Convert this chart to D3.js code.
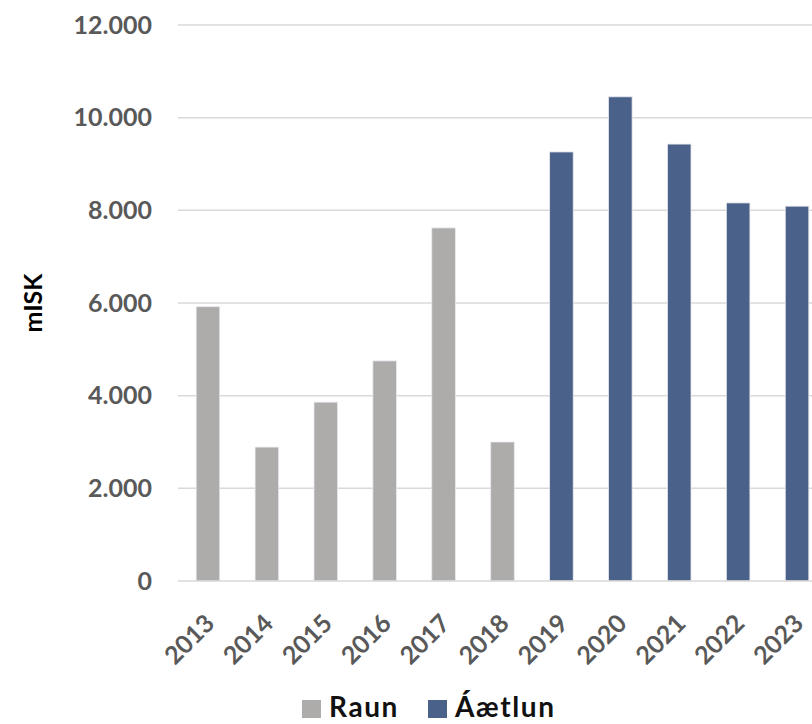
<!DOCTYPE html>
<html>
<head>
<meta charset="utf-8">
<script src="https://cdn.jsdelivr.net/npm/d3@7"></script>
<style>
  body { margin: 0; background: #fff; }
  svg text { font-family: Lato, "Open Sans", sans-serif; font-weight: bold; }
</style>
</head>
<body>
<div id="chart"></div>
<script>
const W = 812, H = 724;

// data
const years = ["2013","2014","2015","2016","2017","2018","2019","2020","2021","2022","2023"];
const values = [5920, 2890, 3860, 4750, 7620, 3000, 9260, 10450, 9430, 8160, 8090];
const series = ["Raun","Raun","Raun","Raun","Raun","Raun","Áætlun","Áætlun","Áætlun","Áætlun","Áætlun"];
const legendNames = ["Raun", "Áætlun"];
const yTicks = [0, 2000, 4000, 6000, 8000, 10000, 12000];

const colors = { "Raun": "#aeabab", "Áætlun": "#4a6189" };

let svg = d3.select("#chart")
    .append("svg")
    .attr("width", W)
    .attr("height", H);

// plot area runs a bit past the right edge (chart is cropped)
let x = d3.scaleBand()
    .domain(years)
    .range([178.5, 826.5])
    .paddingInner(0.6)
    .paddingOuter(0.3);

let y = d3.scaleLinear()
    .domain([0, 12000])
    .range([581, 25]);

// gridlines
svg.append("g")
    .selectAll("line")
    .data(yTicks.filter(d => d > 0))
    .enter()
    .append("line")
    .attr("x1", 178)
    .attr("x2", W)
    .attr("y1", d => y(d))
    .attr("y2", d => y(d))
    .style("stroke", "#d9d9d9")
    .style("stroke-width", 1.5)

// y axis labels
let yAxis = svg.append("g")
    .attr("transform", `translate(${178},0)`)
    .call(d3.axisLeft(y).tickValues(yTicks).tickSize(0).tickPadding(26)
        .tickFormat(d => d3.format(",")(d).replace(/,/g, ".")))
yAxis.select(".domain").remove()
yAxis.selectAll("text")
    .style("font-size", "25px")
    .style("fill", "#595959")

// bars
svg.append("g")
    .selectAll("rect")
    .data(years)
    .enter()
    .append("rect")
    .attr("x", d => x(d))
    .attr("width", x.bandwidth())
    .attr("y", (d, i) => y(values[i]))
    .attr("height", (d, i) => y(0) - y(values[i]))
    .style("fill", (d, i) => colors[series[i]])
    .style("stroke", "#e8e8ee")
    .style("stroke-width", 0.8)

// x axis
let xAxis = svg.append("g")
    .attr("transform", `translate(0,${y(0)})`)
    .call(d3.axisBottom(x).tickSize(0).tickPadding(0))
xAxis.select(".domain")
    .attr("d", `M178,0H${W}`)
    .style("stroke", "#d9d9d9")
    .style("stroke-width", 1.5)
xAxis.selectAll("text")
    .style("font-size", "25px")
    .style("fill", "#595959")
    .attr("text-anchor", "end")
    .attr("y", 0)
    .attr("dy", 0)
    .attr("transform", "translate(8,44) rotate(-45)")

// y axis title
svg.append("text")
    .attr("transform", "translate(42,303) rotate(-90)")
    .style("text-anchor", "middle")
    .style("font-size", "25px")
    .style("fill", "#000")
    .text("mISK")

// legend
let legend = svg.append("g")
    .attr("transform", "translate(302,717)")
let lx = [0, 126];
legendNames.forEach(function(name, i) {
    legend.append("rect")
        .attr("x", lx[i])
        .attr("y", -17)
        .attr("width", 19)
        .attr("height", 18)
        .style("fill", colors[name])
    legend.append("text")
        .attr("x", lx[i] + 27)
        .attr("y", 0)
        .style("font-size", "28px")
        .style("letter-spacing", "1.6px")
        .style("fill", "#111")
        .text(name)
})
</script>
</body>
</html>
